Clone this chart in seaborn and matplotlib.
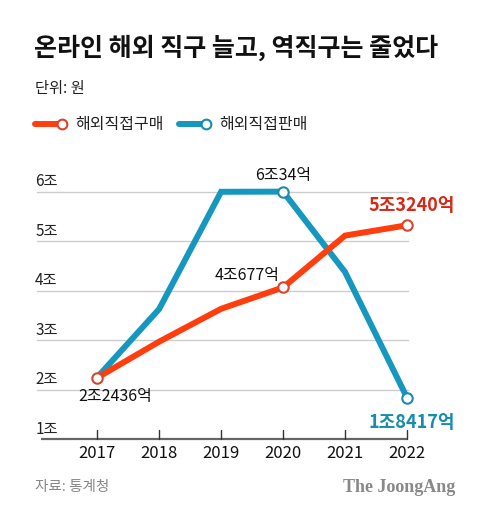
import matplotlib
matplotlib.use('Agg')
import matplotlib.pyplot as plt
from matplotlib.lines import Line2D
import seaborn as sns
import pandas as pd

# data (단위: 조 원)
years = [2017, 2018, 2019, 2020, 2021, 2022]
direct_buy = [2.2436, 2.9717, 3.6360, 4.0677, 5.1152, 5.3240]   # 해외직접구매
direct_sell = [2.25, 3.63, 6.0, 6.0034, 4.38, 1.8417]             # 해외직접판매
y_ticks = [1, 2, 3, 4, 5, 6]
y_labels = ['1조', '2조', '3조', '4조', '5조', '6조']

buy_color = '#FF3D0D'
sell_color = '#1597BF'

df = pd.DataFrame({'year': years, '해외직접구매': direct_buy, '해외직접판매': direct_sell})

sns.set_theme(style='white')
plt.rcParams['font.family'] = ['Noto Sans CJK KR', 'DejaVu Sans']

fig = plt.figure(figsize=(4.8, 5.23), dpi=100)
ax = fig.add_axes([37 / 480, (523 - 439.3) / 523, (456.6 - 37) / 480, 5.6 * 49.5 / 523])

# gridlines
for v in y_ticks[1:]:
    ax.plot([2016.03, 2022.02], [v, v], color='#cccccc', lw=1, zorder=1)
# axis line at 1조
ax.plot([2016.1, 2022], [1, 1], color='#666666', lw=1.6, zorder=2, solid_capstyle='butt')
for yr in years:
    ax.plot([yr, yr], [1, 1.18], color='#333333', lw=1, zorder=2)
    ax.text(yr, 0.72, str(yr), ha='center', va='center', fontsize=12, color='#111111')

for v, lab in zip(y_ticks, y_labels):
    ax.text(2016.0, v + 0.2, lab, ha='left', va='center', fontsize=11, color='#222222')

sns.lineplot(data=df, x='year', y='해외직접판매', color=sell_color, lw=4.3, ax=ax, zorder=3,
             solid_joinstyle='miter')
sns.lineplot(data=df, x='year', y='해외직접구매', color=buy_color, lw=4.3, ax=ax, zorder=4,
             solid_joinstyle='miter')

# open markers
for i in [0, 3, 5]:
    ax.plot(years[i], direct_buy[i], 'o', ms=7.5, mfc='white', mec='#D9452A', mew=1.5, zorder=6)
for i in [3, 5]:
    ax.plot(years[i], direct_sell[i], 'o', ms=7.5, mfc='white', mec='#1A8CB0', mew=1.5, zorder=5)

# value labels
ax.text(years[3], direct_sell[3] + 0.33, '6조34억', ha='center', va='center', fontsize=11.5, color='#111111')
ax.text(years[3] - 0.05, direct_buy[3] + 0.25, '4조677억', ha='right', va='center', fontsize=11.5, color='#111111')
ax.text(years[5] + 0.07, direct_buy[5] + 0.4, '5조3240억', ha='center', va='center', fontsize=13,
        fontweight='bold', color='#D32B17')
ax.text(years[0] + 0.3, direct_buy[0] - 0.38, '2조2436억', ha='center', va='center', fontsize=11.5, color='#111111')
ax.text(years[5] + 0.07, direct_sell[5] - 0.5, '1조8417억', ha='center', va='center', fontsize=13,
        fontweight='bold', color='#178CAD')

ax.set_xlim(2016.03, 2022.8)
ax.set_ylim(1, 6.6)
ax.set_xlabel('')
ax.set_ylabel('')
ax.set_xticks([])
ax.set_yticks([])
for s in ax.spines.values():
    s.set_visible(False)
ax.patch.set_alpha(0)
for art in ax.lines + ax.texts:
    art.set_clip_on(False)

# header
fig.text(34 / 480, 1 - 48 / 523, '온라인 해외 직구 늘고, 역직구는 줄었다', ha='left', va='center',
         fontsize=18, fontweight=900, color='#111111')
fig.text(35 / 480, 1 - 88 / 523, '단위: 원', ha='left', va='center', fontsize=11, color='#222222')

# legend
ly = 1 - 124 / 523
fig.add_artist(Line2D([35 / 480, 61 / 480], [ly, ly], color=buy_color, lw=4.3, solid_capstyle='round'))
fig.add_artist(Line2D([62 / 480], [ly], marker='o', ms=7, mfc='white', mec='#D9452A', mew=1.5))
fig.text(75 / 480, ly, '해외직접구매', ha='left', va='center', fontsize=11.5, color='#222222')
fig.add_artist(Line2D([179 / 480, 205 / 480], [ly, ly], color=sell_color, lw=4.3, solid_capstyle='round'))
fig.add_artist(Line2D([206 / 480], [ly], marker='o', ms=7, mfc='white', mec='#1A8CB0', mew=1.5))
fig.text(219 / 480, ly, '해외직접판매', ha='left', va='center', fontsize=11.5, color='#222222')

# footer
fig.text(35 / 480, 1 - 487 / 523, '자료: 통계청', ha='left', va='center', fontsize=10.5, color='#888888')
fig.text(455 / 480, 1 - 487 / 523, 'The JoongAng', ha='right', va='center', fontsize=13,
         fontweight='bold', color='#888888', family='Liberation Serif')

fig.savefig('out.png', dpi=100)
